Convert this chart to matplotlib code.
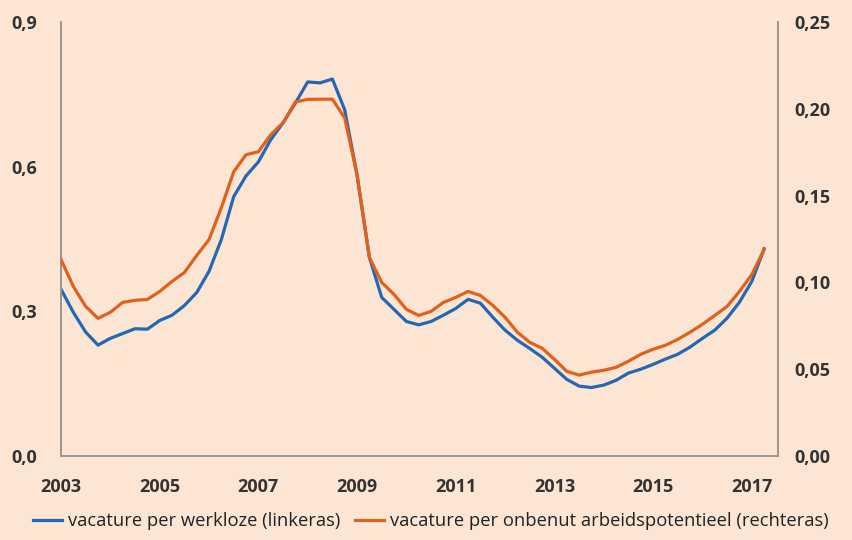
import matplotlib
matplotlib.use('Agg')
import matplotlib.pyplot as plt
import numpy as np

plt.rcParams.update({
    'font.family': ['Open Sans', 'DejaVu Sans'],
})

BG = '#fce6d3'
BLUE = '#2468b3'
ORANGE = '#e0601c'

# quarterly data, 2003 Q1 .. 2017 Q2
start_year = 2003
vac_werkloze = [
    0.346, 0.298, 0.257, 0.230, 0.244, 0.254, 0.264, 0.263,
    0.281, 0.292, 0.312, 0.339, 0.383, 0.449, 0.538, 0.581,
    0.610, 0.656, 0.691, 0.732, 0.776, 0.774, 0.782, 0.718,
    0.583, 0.412, 0.329, 0.304, 0.279, 0.272, 0.279, 0.292,
    0.306, 0.325, 0.317, 0.288, 0.261, 0.240, 0.223, 0.205,
    0.182, 0.159, 0.145, 0.142, 0.147, 0.157, 0.172, 0.180,
    0.190, 0.201, 0.211, 0.226, 0.244, 0.261, 0.286, 0.319,
    0.362, 0.430,
]
vac_onbenut = [
    0.1132, 0.0977, 0.0862, 0.0793, 0.0828, 0.0885, 0.0897, 0.0902,
    0.0948, 0.1006, 0.1057, 0.1155, 0.1247, 0.1431, 0.1638, 0.1736,
    0.1753, 0.1851, 0.1920, 0.2040, 0.2055, 0.2056, 0.2056, 0.1948,
    0.1621, 0.1144, 0.1000, 0.0931, 0.0845, 0.0810, 0.0833, 0.0885,
    0.0914, 0.0948, 0.0925, 0.0868, 0.0799, 0.0713, 0.0655, 0.0621,
    0.0557, 0.0488, 0.0466, 0.0483, 0.0494, 0.0511, 0.0546, 0.0586,
    0.0615, 0.0638, 0.0672, 0.0713, 0.0759, 0.0810, 0.0862, 0.0948,
    0.1045, 0.1190,
]
left_ticks = [0.0, 0.3, 0.6, 0.9]
left_labels = ['0,0', '0,3', '0,6', '0,9']
right_ticks = [0.00, 0.05, 0.10, 0.15, 0.20, 0.25]
right_labels = ['0,00', '0,05', '0,10', '0,15', '0,20', '0,25']
year_ticks = [2003, 2005, 2007, 2009, 2011, 2013, 2015, 2017]

x = start_year + np.arange(len(vac_werkloze)) * 0.25

fig = plt.figure(figsize=(8.53, 5.40), dpi=100, facecolor=BG)
ax = fig.add_axes([0.0715, 0.1556, 0.8405, 0.8034])
ax.set_facecolor(BG)
ax2 = ax.twinx()

l1, = ax.plot(x, vac_werkloze, color=BLUE, linewidth=2.3,
              label='vacature per werkloze (linkeras)', zorder=2)
l2, = ax2.plot(x, vac_onbenut, color=ORANGE, linewidth=2.3,
               label='vacature per onbenut arbeidspotentieel (rechteras)', zorder=3)

ax.set_xlim(2003, 2017.53)
ax.set_ylim(0, 0.9)
ax2.set_ylim(0, 0.25)

ax.set_xticks(year_ticks)
ax.set_xticklabels([str(y) for y in year_ticks])
ax.set_yticks(left_ticks)
ax.set_yticklabels(left_labels, ha='left')
ax2.set_yticks(right_ticks)
ax2.set_yticklabels(right_labels)

tick_kw = dict(length=0, labelsize=13, labelcolor='#333333')
ax.tick_params(axis='x', pad=16, **tick_kw)
ax.tick_params(axis='y', pad=36, **tick_kw)
ax2.tick_params(axis='y', pad=12, **tick_kw)
for lab in ax.get_xticklabels() + ax.get_yticklabels() + ax2.get_yticklabels():
    lab.set_fontweight('bold')

for a in (ax, ax2):
    a.spines['top'].set_visible(False)
    for s in ('left', 'right', 'bottom'):
        a.spines[s].set_color('#9a9590')
        a.spines[s].set_linewidth(1.2)

fig.legend(handles=[l1, l2], loc='lower center', bbox_to_anchor=(0.505, -0.012),
           ncol=2, frameon=False, fontsize=13.2, handlelength=1.6,
           handletextpad=0.3, columnspacing=0.8, labelcolor='#222222')

fig.savefig('out.png', dpi=100, facecolor=BG)
